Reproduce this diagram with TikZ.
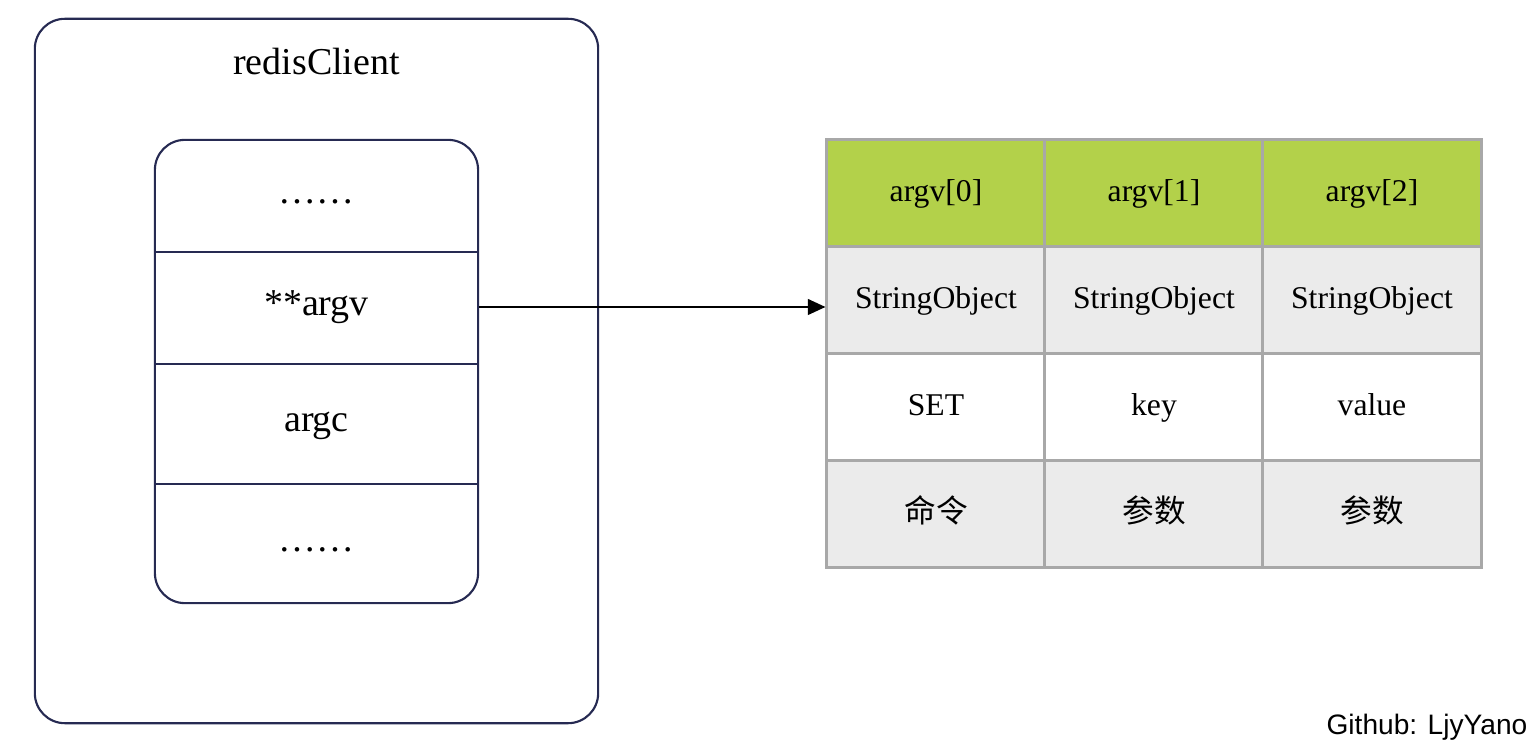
\documentclass[tikz,border=0pt]{standalone}
\usepackage{fontspec}
\setmainfont{Liberation Serif}
\newfontfamily\cjk{Noto Sans CJK SC}
\newfontfamily\gitfont{Liberation Sans}
\usetikzlibrary{arrows.meta}
\definecolor{framec}{HTML}{262A52}
\definecolor{gridc}{HTML}{A8A8A8}
\definecolor{hdgreen}{HTML}{B3D14A}
\definecolor{rowgray}{HTML}{EBEBEB}

\begin{document}
\begin{tikzpicture}[x=0.01cm,y=-0.01cm,>={Triangle[length=5pt,width=4.5pt]},
        frame/.style={draw=framec,line width=0.6pt,rounded corners=0.3cm,inner sep=0pt},
        field/.style={inner sep=0pt,minimum width=3.23cm,text height=0.68em,text depth=0.22em,font=\fontsize{10.8}{13}\selectfont},
        cell/.style={draw=gridc,line width=0.85pt,inner sep=0pt,minimum width=2.18cm,minimum height=1.07cm,text height=0.68em,text depth=0.22em,font=\fontsize{9}{11}\selectfont}]
        \useasboundingbox (0,0) rectangle (1532,749);

        % redisClient 外框
        \node[frame,minimum width=5.63cm,minimum height=7.04cm] (client) at (316.5,371) {};
        \node[font=\fontsize{10.8}{13}\selectfont] (title) at (316.5,62) {redisClient};

        % 结构体字段
        \node[frame,minimum width=3.23cm,minimum height=4.63cm] (fields) at (316.5,371.5) {};
        \node[field,minimum height=1.11cm] (dotsa) at (316.5,195.5) {……};
        \node[field,minimum height=1.12cm] (argv) at (316.5,307) {**argv};
        \node[field,minimum height=1.20cm] (argc) at (316.5,423) {argc};
        \node[field,minimum height=1.20cm] (dotsb) at (316.5,543) {……};
        \draw[framec,line width=0.6pt] (dotsa.south west) -- (dotsa.south east);
        \draw[framec,line width=0.6pt] (argv.south west) -- (argv.south east);
        \draw[framec,line width=0.6pt] (argc.south west) -- (argc.south east);

        % argv 数组
        \node[cell,fill=hdgreen] (hda) at (936,193.5) {argv[0]};
        \node[cell,fill=hdgreen] (hdb) at (1154,193.5) {argv[1]};
        \node[cell,fill=hdgreen] (hdc) at (1372,193.5) {argv[2]};
        \node[cell,fill=rowgray] (soa) at (936,300) {StringObject};
        \node[cell,fill=rowgray] (sob) at (1154,300) {StringObject};
        \node[cell,fill=rowgray] (soc) at (1372,300) {StringObject};
        \node[cell,fill=white] (vala) at (936,407) {SET};
        \node[cell,fill=white] (valb) at (1154,407) {key};
        \node[cell,fill=white] (valc) at (1372,407) {value};
        \node[cell,fill=rowgray] (noa) at (936,514) {\cjk 命令};
        \node[cell,fill=rowgray] (nob) at (1154,514) {\cjk 参数};
        \node[cell,fill=rowgray] (noc) at (1372,514) {\cjk 参数};

        \draw[->,line width=0.5pt] (argv.east) -- (argv.east -| soa.west);

        \node[anchor=east,inner sep=0pt,font=\gitfont\fontsize{8}{10}\selectfont] (credit) at (1528,727) {Github: LjyYano};
    \end{tikzpicture}
\end{document}
